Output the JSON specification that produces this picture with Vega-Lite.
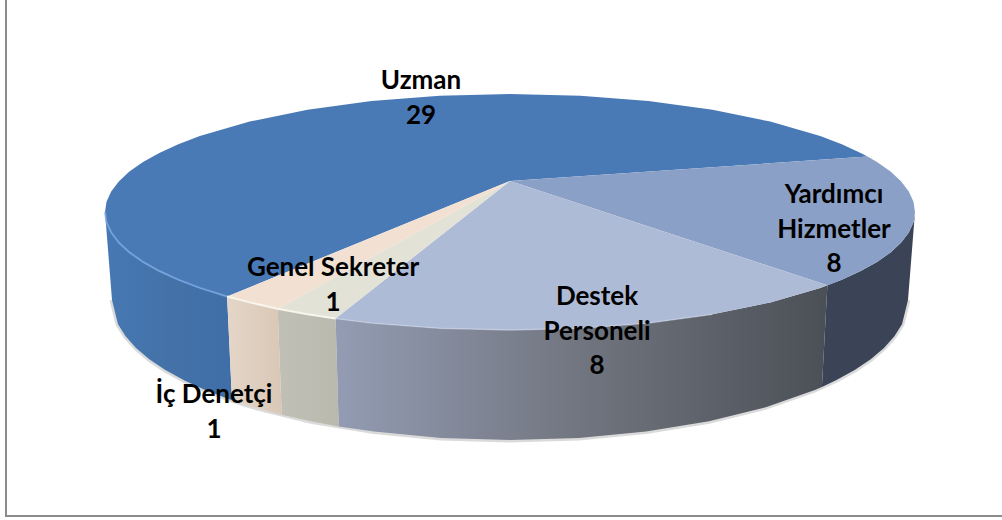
{
"$schema":"https://vega.github.io/schema/vega-lite/v6.json",
"width":1002,"height":520,
"autosize":{"type":"none"},
"padding":0,
"background":"white",
"view":{"stroke":null},
"config":{"line":{"strokeWidth":0}},
"datasets":{
"frame":[{"i":1,"x":6,"y":0},{"i":2,"x":6,"y":516},{"i":3,"x":1002,"y":516}],
"bottomEdge":[{"i":1,"x":112,"y":300},{"i":2,"x":118,"y":324.3},{"i":2.5,"x":125.6,"y":336.2},{"i":3,"x":136,"y":347.9},{"i":3.5,"x":149.3,"y":359.2},{"i":4,"x":165.3,"y":370},{"i":4.5,"x":184,"y":380.3},{"i":5,"x":205.1,"y":390},{"i":6,"x":232,"y":400.2},{"i":7,"x":254.2,"y":407.2},{"i":8,"x":311,"y":421.2},{"i":9,"x":373.9,"y":431.6},{"i":10,"x":440.9,"y":437.9},{"i":11,"x":510,"y":440},{"i":12,"x":579.1,"y":437.9},{"i":13,"x":646.1,"y":431.6},{"i":14,"x":709,"y":421.2},{"i":15,"x":765.8,"y":407.2},{"i":16,"x":814.9,"y":390},{"i":16.5,"x":836,"y":380.3},{"i":17,"x":854.7,"y":370},{"i":17.5,"x":870.7,"y":359.2},{"i":18,"x":884,"y":347.9},{"i":18.5,"x":894.4,"y":336.2},{"i":19,"x":902,"y":324.3},{"i":20,"x":908,"y":300}],
"uzmanWall":[{"i":1,"x":105,"y":212},{"i":2,"x":106.5,"y":222.3},{"i":3,"x":111.2,"y":232.5},{"i":4,"x":118.8,"y":242.5},{"i":5,"x":129.4,"y":252.4},{"i":5.5,"x":143,"y":261.9},{"i":6,"x":159.3,"y":271},{"i":6.5,"x":178.2,"y":279.7},{"i":7,"x":199.8,"y":287.9},{"i":8,"x":227.1,"y":296.5},{"i":9,"x":232,"y":400.2},{"i":10,"x":205.1,"y":390},{"i":10.5,"x":184,"y":380.3},{"i":11,"x":165.3,"y":370},{"i":11.5,"x":149.3,"y":359.2},{"i":12,"x":136,"y":347.9},{"i":12.5,"x":125.6,"y":336.2},{"i":13,"x":118,"y":324.3},{"i":14,"x":112,"y":300}],
"icWall":[{"i":1,"x":227.1,"y":296.5},{"i":2,"x":249.7,"y":302.4},{"i":3,"x":277.7,"y":308.7},{"i":4,"x":281.7,"y":414.7},{"i":5,"x":254.2,"y":407.2},{"i":6,"x":232,"y":400.2}],
"genelWall":[{"i":1,"x":277.7,"y":308.7},{"i":2,"x":307.5,"y":314.2},{"i":3,"x":335.6,"y":318.5},{"i":4,"x":338.7,"y":426.4},{"i":5,"x":311,"y":421.2},{"i":6,"x":281.7,"y":414.7}],
"destekWall":[{"i":1,"x":335.6,"y":318.5},{"i":2,"x":371.5,"y":322.9},{"i":3,"x":439.7,"y":328.2},{"i":4,"x":510,"y":330},{"i":5,"x":580.3,"y":328.2},{"i":6,"x":648.5,"y":322.9},{"i":7,"x":712.5,"y":314.2},{"i":8,"x":770.3,"y":302.4},{"i":9,"x":820.2,"y":287.9},{"i":10,"x":827.4,"y":285.3},{"i":11,"x":821.9,"y":387},{"i":12,"x":814.9,"y":390},{"i":13,"x":765.8,"y":407.2},{"i":14,"x":709,"y":421.2},{"i":15,"x":646.1,"y":431.6},{"i":16,"x":579.1,"y":437.9},{"i":17,"x":510,"y":440},{"i":18,"x":440.9,"y":437.9},{"i":19,"x":373.9,"y":431.6},{"i":20,"x":338.7,"y":426.4}],
"yardimciWall":[{"i":1,"x":827.4,"y":285.3},{"i":1.5,"x":841.8,"y":279.7},{"i":2,"x":860.7,"y":271},{"i":2.5,"x":877,"y":261.9},{"i":3,"x":890.6,"y":252.4},{"i":4,"x":901.2,"y":242.5},{"i":5,"x":908.8,"y":232.5},{"i":6,"x":913.5,"y":222.3},{"i":7,"x":915,"y":212},{"i":8,"x":908,"y":300},{"i":9,"x":902,"y":324.3},{"i":9.5,"x":894.4,"y":336.2},{"i":10,"x":884,"y":347.9},{"i":10.5,"x":870.7,"y":359.2},{"i":11,"x":854.7,"y":370},{"i":11.5,"x":836,"y":380.3},{"i":12,"x":821.9,"y":387}],
"uzmanTop":[{"i":1,"x":510,"y":181},{"i":2,"x":227.1,"y":296.5},{"i":3,"x":199.8,"y":287.9},{"i":3.5,"x":178.2,"y":279.7},{"i":4,"x":159.3,"y":271},{"i":4.5,"x":143,"y":261.9},{"i":5,"x":129.4,"y":252.4},{"i":6,"x":118.8,"y":242.5},{"i":7,"x":111.2,"y":232.5},{"i":8,"x":106.5,"y":222.3},{"i":9,"x":105,"y":212},{"i":10,"x":106.5,"y":201.7},{"i":11,"x":111.2,"y":191.5},{"i":12,"x":118.8,"y":181.5},{"i":13,"x":129.4,"y":171.6},{"i":13.5,"x":143,"y":162.1},{"i":14,"x":159.3,"y":153},{"i":14.5,"x":178.3,"y":144.3},{"i":15,"x":199.8,"y":136.1},{"i":16,"x":249.7,"y":121.6},{"i":17,"x":307.5,"y":109.8},{"i":18,"x":371.5,"y":101.1},{"i":19,"x":439.7,"y":95.8},{"i":20,"x":510,"y":94},{"i":21,"x":580.3,"y":95.8},{"i":22,"x":648.5,"y":101.1},{"i":23,"x":712.5,"y":109.8},{"i":24,"x":770.3,"y":121.6},{"i":25,"x":820.2,"y":136.1},{"i":25.5,"x":841.8,"y":144.3},{"i":26,"x":860.7,"y":153},{"i":27,"x":867.6,"y":156.6}],
"yardimciTop":[{"i":1,"x":510,"y":181},{"i":2,"x":867.6,"y":156.6},{"i":2.5,"x":877,"y":162.1},{"i":3,"x":890.6,"y":171.6},{"i":4,"x":901.2,"y":181.5},{"i":5,"x":908.8,"y":191.5},{"i":6,"x":913.5,"y":201.7},{"i":7,"x":915,"y":212},{"i":8,"x":913.5,"y":222.3},{"i":9,"x":908.8,"y":232.5},{"i":10,"x":901.2,"y":242.5},{"i":11,"x":890.6,"y":252.4},{"i":11.5,"x":877,"y":261.9},{"i":12,"x":860.7,"y":271},{"i":12.5,"x":841.8,"y":279.7},{"i":13,"x":827.4,"y":285.3}],
"destekTop":[{"i":1,"x":510,"y":181},{"i":2,"x":827.4,"y":285.3},{"i":3,"x":820.2,"y":287.9},{"i":4,"x":770.3,"y":302.4},{"i":5,"x":712.5,"y":314.2},{"i":6,"x":648.5,"y":322.9},{"i":7,"x":580.3,"y":328.2},{"i":8,"x":510,"y":330},{"i":9,"x":439.7,"y":328.2},{"i":10,"x":371.5,"y":322.9},{"i":11,"x":335.6,"y":318.5}],
"genelTop":[{"i":1,"x":510,"y":181},{"i":2,"x":335.6,"y":318.5},{"i":3,"x":307.5,"y":314.2},{"i":4,"x":277.7,"y":308.7}],
"icTop":[{"i":1,"x":510,"y":181},{"i":2,"x":277.7,"y":308.7},{"i":3,"x":249.7,"y":302.4},{"i":4,"x":227.1,"y":296.5}],
"rimBlue":[{"i":1,"x":105,"y":212},{"i":2,"x":106.5,"y":222.3},{"i":3,"x":111.2,"y":232.5},{"i":4,"x":118.8,"y":242.5},{"i":5,"x":129.4,"y":252.4},{"i":5.5,"x":143,"y":261.9},{"i":6,"x":159.3,"y":271},{"i":6.5,"x":178.2,"y":279.7},{"i":7,"x":199.8,"y":287.9},{"i":8,"x":227.1,"y":296.5}],
"rimLight":[{"i":1,"x":227.1,"y":296.5},{"i":2,"x":249.7,"y":302.4},{"i":3,"x":277.7,"y":308.7},{"i":4,"x":307.5,"y":314.2},{"i":5,"x":335.6,"y":318.5}],
"rimDestek":[{"i":1,"x":335.6,"y":318.5},{"i":2,"x":371.5,"y":322.9},{"i":3,"x":439.7,"y":328.2},{"i":4,"x":510,"y":330},{"i":5,"x":580.3,"y":328.2},{"i":6,"x":648.5,"y":322.9},{"i":7,"x":712.5,"y":314.2}],
"labels":[
{"slice":"Uzman","value":29,"label":"Uzman\n29","x":421,"y":81},
{"slice":"Yardımcı Hizmetler","value":8,"label":"Yardımcı\nHizmetler\n8","x":834,"y":195},
{"slice":"Destek Personeli","value":8,"label":"Destek\nPersoneli\n8","x":597,"y":297},
{"slice":"Genel Sekreter","value":1,"label":"Genel Sekreter\n1","x":333,"y":268},
{"slice":"İç Denetçi","value":1,"label":"İç Denetçi\n1","x":214,"y":395}
]
},
"encoding":{
"x":{"field":"x","type":"quantitative","scale":{"domain":[0,1002],"nice":false,"zero":false},"axis":null},
"y":{"field":"y","type":"quantitative","scale":{"domain":[520,0],"nice":false,"zero":false},"axis":null},
"order":{"field":"i","type":"quantitative"}
},
"layer":[
{"data":{"name":"frame"},"mark":{"type":"line","stroke":"#8c8c8c","strokeWidth":2}},
{"data":{"name":"bottomEdge"},"mark":{"type":"line","stroke":"#555555","strokeWidth":5,"opacity":0.22}},
{"data":{"name":"uzmanWall"},"mark":{"type":"line","stroke":null,"fill":{"x1":0,"y1":0,"x2":1,"y2":0,"gradient":"linear","stops":[{"offset":0,"color":"#4678b3"},{"offset":0.5,"color":"#4472a8"},{"offset":1,"color":"#3f6ea8"}]}}},
{"data":{"name":"icWall"},"mark":{"type":"line","stroke":null,"fill":{"x1":0,"y1":0,"x2":1,"y2":0,"gradient":"linear","stops":[{"offset":0,"color":"#e4d6c8"},{"offset":1,"color":"#dac7b6"}]}}},
{"data":{"name":"genelWall"},"mark":{"type":"line","stroke":null,"fill":{"x1":0,"y1":0,"x2":1,"y2":0,"gradient":"linear","stops":[{"offset":0,"color":"#c0c0b6"},{"offset":1,"color":"#b9b9ae"}]}}},
{"data":{"name":"destekWall"},"mark":{"type":"line","stroke":null,"fill":{"x1":0,"y1":0,"x2":1,"y2":0,"gradient":"linear","stops":[{"offset":0,"color":"#939cb3"},{"offset":0.5,"color":"#71757f"},{"offset":1,"color":"#4b5057"}]}}},
{"data":{"name":"yardimciWall"},"mark":{"type":"line","stroke":null,"fill":"#3b4357"}},
{"data":{"name":"uzmanTop"},"mark":{"type":"line","stroke":null,"fill":"#4a7ab6"}},
{"data":{"name":"yardimciTop"},"mark":{"type":"line","stroke":null,"fill":"#8aa0c7"}},
{"data":{"name":"destekTop"},"mark":{"type":"line","stroke":null,"fill":"#aebbd7"}},
{"data":{"name":"genelTop"},"mark":{"type":"line","stroke":null,"fill":"#e3e2d6"}},
{"data":{"name":"icTop"},"mark":{"type":"line","stroke":null,"fill":"#f2e1d2"}},
{"data":{"name":"rimBlue"},"mark":{"type":"line","stroke":"#7dabe3","strokeWidth":2,"opacity":0.7}},
{"data":{"name":"rimLight"},"mark":{"type":"line","stroke":"#f8f5ec","strokeWidth":2}},
{"data":{"name":"rimDestek"},"mark":{"type":"line","stroke":"#c9d2e4","strokeWidth":1.5,"opacity":0.6}},
{"data":{"name":"labels"},"mark":{"type":"text","font":"Lato","fontWeight":"bold","fontSize":26,"lineHeight":34.5,"lineBreak":"\n","align":"center","baseline":"middle","color":"#000000"},"encoding":{"text":{"field":"label","type":"nominal"},"order":{"value":null}}}
]
}
